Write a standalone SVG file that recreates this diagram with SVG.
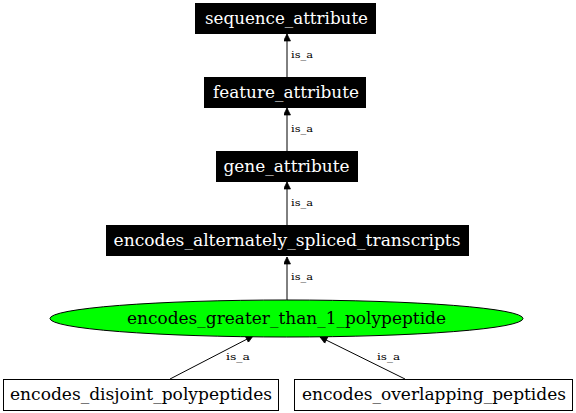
<svg xmlns="http://www.w3.org/2000/svg" width="576" height="413" viewBox="0 0 576 413">
<defs>
<marker id="ah" viewBox="0 0 10 10" refX="10" refY="5" markerWidth="10" markerHeight="7" markerUnits="userSpaceOnUse" orient="auto">
<path d="M0,0 L10,5 L0,10 z" fill="#000" stroke="#000"/>
</marker>
</defs>
<style>
.t{font-size:16px;text-anchor:middle}
.w{fill:#fff}
.l{font-size:10px;text-anchor:start}
.dark{fill:#000;stroke:#000}
.light{fill:#fff;stroke:#000}
.e{stroke:#000;stroke-width:1;fill:none;marker-end:url(#ah)}
</style>
<rect width="576" height="413" fill="#fff"/>
<g font-family="DejaVu Serif, serif">
<g id="edges">
<line class="e" x1="287" y1="77" x2="287" y2="34"/>
<text class="l" x="291" y="58" textLength="22" lengthAdjust="spacingAndGlyphs">is_a</text>
<line class="e" x1="287" y1="151" x2="287" y2="108"/>
<text class="l" x="291" y="132" textLength="22" lengthAdjust="spacingAndGlyphs">is_a</text>
<line class="e" x1="287" y1="225" x2="287" y2="182"/>
<text class="l" x="291" y="206" textLength="22" lengthAdjust="spacingAndGlyphs">is_a</text>
<line class="e" x1="287" y1="300" x2="287" y2="257"/>
<text class="l" x="291" y="280" textLength="22" lengthAdjust="spacingAndGlyphs">is_a</text>
<line class="e" x1="170" y1="379" x2="253" y2="336"/>
<text class="l" x="226" y="360" textLength="24" lengthAdjust="spacingAndGlyphs">is_a</text>
<line class="e" x1="405" y1="379" x2="320" y2="337"/>
<text class="l" x="377" y="360" textLength="23" lengthAdjust="spacingAndGlyphs">is_a</text>
</g>
<g id="sequence_attribute">
<rect class="dark" x="195.5" y="3.5" width="180" height="30"/>
<text class="t w" x="286.5" y="23.5" textLength="163" lengthAdjust="spacingAndGlyphs">sequence_attribute</text>
</g>
<g id="feature_attribute">
<rect class="dark" x="204.5" y="77.5" width="161" height="30"/>
<text class="t w" x="286" y="97.5" textLength="146" lengthAdjust="spacingAndGlyphs">feature_attribute</text>
</g>
<g id="gene_attribute">
<rect class="dark" x="216.5" y="151.5" width="141" height="30"/>
<text class="t w" x="286.5" y="171.5" textLength="126" lengthAdjust="spacingAndGlyphs">gene_attribute</text>
</g>
<g id="encodes_alternately_spliced_transcripts">
<rect class="dark" x="106.5" y="225.5" width="362" height="30"/>
<text class="t w" x="287" y="245.5" textLength="347" lengthAdjust="spacingAndGlyphs">encodes_alternately_spliced_transcripts</text>
</g>
<g id="encodes_greater_than_1_polypeptide">
<ellipse cx="286.5" cy="318.5" rx="236.5" ry="18.5" fill="#00ff00" stroke="#000"/>
<text class="t" x="286.5" y="323.5" textLength="319" lengthAdjust="spacingAndGlyphs">encodes_greater_than_1_polypeptide</text>
</g>
<g id="encodes_disjoint_polypeptides">
<rect class="light" x="3.5" y="379.5" width="275" height="31"/>
<text class="t" x="141" y="400" textLength="262" lengthAdjust="spacingAndGlyphs">encodes_disjoint_polypeptides</text>
</g>
<g id="encodes_overlapping_peptides">
<rect class="light" x="294.5" y="379.5" width="278" height="31"/>
<text class="t" x="434" y="400" textLength="264" lengthAdjust="spacingAndGlyphs">encodes_overlapping_peptides</text>
</g>
</g>
</svg>
